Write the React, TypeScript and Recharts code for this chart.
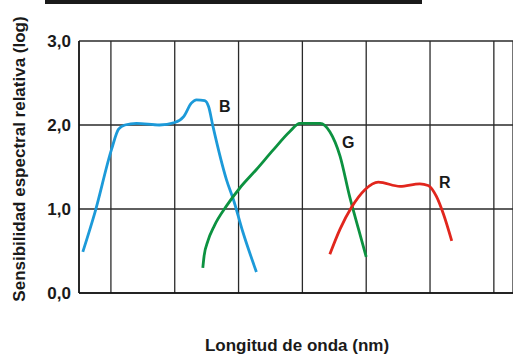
import React from "react";
import { LineChart, Line, XAxis, YAxis, CartesianGrid } from "recharts";

// wavelength (nm) vs relative spectral sensitivity (log)
const blueCurve = [
  { nm: 378, v: 0.49 }, { nm: 387.5, v: 0.96 }, { nm: 400.5, v: 1.71 }, { nm: 406, v: 1.95 },
  { nm: 411, v: 2.0 }, { nm: 420, v: 2.02 }, { nm: 438, v: 2.0 }, { nm: 450, v: 2.03 },
  { nm: 457, v: 2.1 }, { nm: 463, v: 2.26 }, { nm: 467, v: 2.3 }, { nm: 473.5, v: 2.29 },
  { nm: 476.5, v: 2.22 }, { nm: 480, v: 1.98 }, { nm: 490.5, v: 1.35 }, { nm: 496, v: 1.11 },
  { nm: 503.5, v: 0.72 }, { nm: 514, v: 0.25 },
];
const greenCurve = [
  { nm: 472, v: 0.3 }, { nm: 473, v: 0.44 }, { nm: 476, v: 0.62 }, { nm: 481, v: 0.8 },
  { nm: 490.7, v: 1.04 }, { nm: 501, v: 1.25 }, { nm: 514, v: 1.47 }, { nm: 527, v: 1.7 },
  { nm: 540, v: 1.92 }, { nm: 548, v: 2.02 }, { nm: 564, v: 2.02 }, { nm: 571.5, v: 1.92 },
  { nm: 579.5, v: 1.63 }, { nm: 587, v: 1.15 }, { nm: 594, v: 0.76 }, { nm: 600, v: 0.43 },
];
const redCurve = [
  { nm: 571.5, v: 0.46 }, { nm: 579.5, v: 0.76 }, { nm: 588.5, v: 1.02 }, { nm: 599, v: 1.23 },
  { nm: 609.5, v: 1.32 }, { nm: 626.5, v: 1.27 }, { nm: 642, v: 1.3 }, { nm: 648.5, v: 1.28 },
  { nm: 655, v: 1.15 }, { nm: 660.5, v: 0.94 }, { nm: 667, v: 0.62 },
];
const xTicks = [375, 400, 450, 500, 550, 600, 650, 700];
const yTicks = [0, 1, 2, 3];

const font = "'Liberation Sans', Arial, sans-serif";
const lbl: React.CSSProperties = { position: "absolute", fontFamily: font, fontWeight: 700, color: "#1a1a1a", whiteSpace: "nowrap", lineHeight: 1 };

export default function App() {
  return (
    <div style={{ position: "absolute", left: 0, top: 0, width: 513, height: 354, background: "#fff", overflow: "hidden" }}>
      <div style={{ position: "absolute", left: 45, top: 0, width: 377, height: 3.5, background: "#1a1a1a" }} />
      <LineChart width={513} height={354} margin={{ top: 41, right: 0, bottom: 60, left: 0 }}>
        <CartesianGrid stroke="#2a2a2a" strokeWidth={1.3} />
        <XAxis
          type="number"
          dataKey="nm"
          domain={[375, 715]}
          ticks={xTicks}
          tick={() => <g />}
          tickLine={false}
          height={1}
          axisLine={{ stroke: "#111", strokeWidth: 1.5 }}
          allowDataOverflow
        />
        <YAxis
          type="number"
          domain={[0, 3]}
          ticks={yTicks}
          width={79}
          tickLine={false}
          axisLine={{ stroke: "#111", strokeWidth: 1.5 }}
          tickFormatter={(t: number) => t.toFixed(1).replace(".", ",")}
          tick={{ fill: "#1a1a1a", fontSize: 17, fontWeight: 700, fontFamily: font }}
        />
        <Line data={blueCurve} dataKey="v" type="monotone" stroke="#1c9ad9" strokeWidth={2.8} dot={false} isAnimationActive={false} />
        <Line data={greenCurve} dataKey="v" type="monotone" stroke="#0c9240" strokeWidth={2.8} dot={false} isAnimationActive={false} />
        <Line data={redCurve} dataKey="v" type="monotone" stroke="#e1261d" strokeWidth={2.8} dot={false} isAnimationActive={false} />
      </LineChart>
      <div style={{ ...lbl, left: 219, top: 99, fontSize: 16 }}>B</div>
      <div style={{ ...lbl, left: 342, top: 135, fontSize: 16 }}>G</div>
      <div style={{ ...lbl, left: 439, top: 175, fontSize: 16 }}>R</div>
      <div style={{ ...lbl, left: 297, top: 337, fontSize: 17, transform: "translateX(-50%)" }}>Longitud de onda (nm)</div>
      <div style={{ ...lbl, left: 19, top: 159, fontSize: 17, transform: "translate(-50%, -50%) rotate(-90deg)" }}>
        Sensibilidad espectral relativa (log)
      </div>
    </div>
  );
}
